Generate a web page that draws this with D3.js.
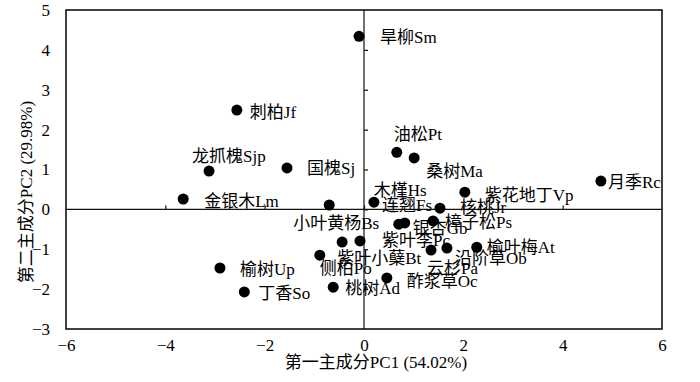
<!DOCTYPE html>
<html>
<head>
<meta charset="utf-8">
<style>
    body { margin: 0; background: #fff; }
    svg { display: block; }
    text {
        font-family: 'Liberation Serif', 'Times New Roman', 'Noto Sans CJK SC', serif;
        font-size: 17px;
        fill: #000;
    }
</style>
</head>
<body>
<svg width="700" height="382"></svg>

<script src="https://d3js.org/d3.v7.min.js"></script>
<script>
    // species names and PCA scores
    let names = ["旱柳Sm", "刺柏Jf", "龙抓槐Sjp", "国槐Sj", "金银木Lm", "油松Pt", "桑树Ma", "月季Rc",
        "紫花地丁Vp", "连翘Fs", "核桃Jr", "小叶黄杨Bs", "木槿Hs", "银杏Gb", "樟子松Ps", "紫叶李Pc",
        "紫叶小蘖Bt", "侧柏Po", "云杉Pa", "沿阶草Ob", "榆叶梅At", "酢浆草Oc", "榆树Up", "丁香So", "桃树Ad"]
    let pc1 = [-0.10, -2.56, -3.12, -1.55, -3.64, 0.66, 1.01, 4.77,
        2.03, 0.20, 1.53, -0.70, 0.70, 0.82, 1.39, -0.08,
        -0.44, -0.89, 1.35, 1.67, 2.27, 0.46, -2.90, -2.41, -0.62]
    let pc2 = [4.34, 2.49, 0.96, 1.04, 0.26, 1.43, 1.29, 0.71,
        0.43, 0.18, 0.03, 0.11, -0.37, -0.34, -0.29, -0.79,
        -0.82, -1.15, -1.02, -0.97, -0.95, -1.72, -1.47, -2.07, -1.95]

    let xTicks = [-6, -4, -2, 0, 2, 4, 6]
    let yTicks = [-3, -2, -1, 0, 1, 2, 3, 4, 5]
    let xTitle = "第一主成分PC1 (54.02%)"
    let yTitle = "第二主成分PC2 (29.98%)"

    // where each label sits relative to its dot (px), to mimic the hand placed labels
    let labelShift = {
        "旱柳Sm": [21, 1], "刺柏Jf": [13, 2], "龙抓槐Sjp": [-17, -15], "国槐Sj": [20, 0],
        "金银木Lm": [21, 2], "油松Pt": [-3, -18], "桑树Ma": [12, 13], "月季Rc": [7, 1],
        "紫花地丁Vp": [20, 3], "连翘Fs": [8, 3], "核桃Jr": [20, -1], "小叶黄杨Bs": [-36, 18],
        "木槿Hs": [-25, -34], "银杏Gb": [8, 5], "樟子松Ps": [12, 1], "紫叶李Pc": [22, -1],
        "紫叶小蘖Bt": [-5, 16], "侧柏Po": [0, 13], "云杉Pa": [-4, 18], "沿阶草Ob": [8, 10],
        "榆叶梅At": [10, 0], "酢浆草Oc": [20, 3], "榆树Up": [20, 1], "丁香So": [14, 1], "桃树Ad": [12, 1]
    }

    let points = names.map((n, i) => ({ name: n, x: pc1[i], y: pc2[i] }))

    let margin = { top: 10, right: 38, bottom: 53, left: 66 }
    let width = 700 - margin.left - margin.right
    let height = 382 - margin.top - margin.bottom

    let svg = d3.select("svg")
    let g = svg.append("g").attr("transform", `translate(${margin.left},${margin.top})`)

    let x = d3.scaleLinear().domain([-6, 6]).range([0, width])
    let y = d3.scaleLinear().domain([-3, 5]).range([height, 0])

    // tick labels outside the frame
    let xLab = g.append("g")
        .attr("transform", `translate(0,${height})`)
        .call(d3.axisBottom(x).tickValues(xTicks).tickSize(0).tickPadding(10).tickFormat(d3.format("d")))
    let yLab = g.append("g")
        .call(d3.axisLeft(y).tickValues(yTicks).tickSize(0).tickPadding(16).tickFormat(d3.format("d")))
    xLab.select(".domain").remove()
    yLab.select(".domain").remove()
    g.selectAll(".tick text").style("font-size", "17px").attr("fill", "#000")
        .style("font-family", "'Liberation Serif', 'Times New Roman', serif")

    // frame
    g.append("rect")
        .attr("width", width)
        .attr("height", height)
        .style("fill", "none")
        .style("stroke", "#111")
        .style("stroke-width", 1.6)

    // zero axes with small inside ticks
    let xZero = g.append("g")
        .attr("transform", `translate(0,${y(0)})`)
        .call(d3.axisTop(x).tickValues(xTicks.slice(1, -1)).tickSize(4).tickFormat(""))
    let yZero = g.append("g")
        .attr("transform", `translate(${x(0)},0)`)
        .call(d3.axisRight(y).tickValues(yTicks.slice(1, -1)).tickSize(4).tickFormat(""))
    xZero.select(".domain").attr("d", `M0,0H${width}`)
    yZero.select(".domain").attr("d", `M0,0V${height}`)
    g.selectAll(".domain, .tick line").style("stroke", "#111").style("stroke-width", 1.2)

    // dots
    g.selectAll(".dot")
        .data(points)
        .join("circle")
        .attr("class", "dot")
        .attr("cx", d => x(d.x))
        .attr("cy", d => y(d.y))
        .attr("r", 5.5)
        .style("fill", "#000")

    // labels
    g.selectAll(".lbl")
        .data(points)
        .join("text")
        .attr("class", "lbl")
        .attr("x", d => x(d.x) + labelShift[d.name][0])
        .attr("y", d => y(d.y) + labelShift[d.name][1])
        .attr("dy", "0.35em")
        .text(d => d.name)

    // axis titles
    g.append("text")
        .attr("x", width / 2 + 12)
        .attr("y", height + 39)
        .attr("text-anchor", "middle")
        .text(xTitle)

    g.append("text")
        .attr("transform", `translate(${26 - margin.left},${192 - margin.top}) rotate(-90)`)
        .attr("text-anchor", "middle")
        .attr("dy", "0.35em")
        .text(yTitle)
</script>
</body>
</html>
